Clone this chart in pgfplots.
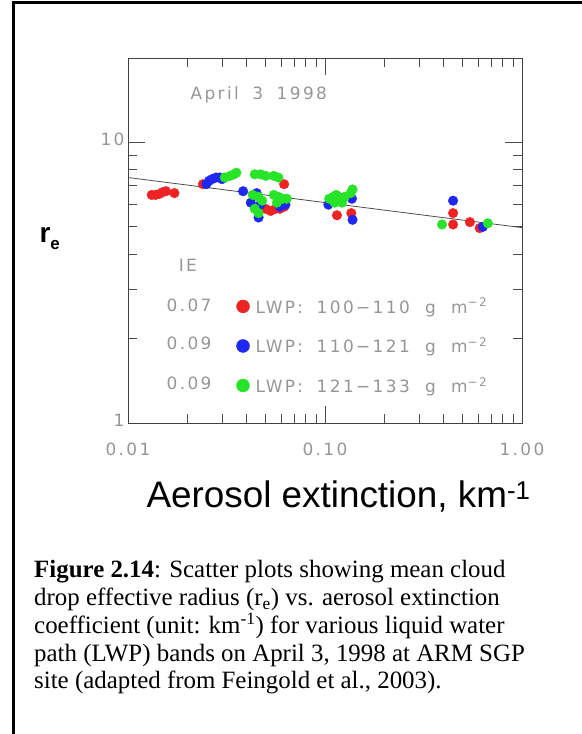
\documentclass[border=0pt]{standalone}
\usepackage{pgfplots}
\pgfplotsset{compat=1.18}
\usepackage{fontspec}
\setmainfont{Liberation Serif}
\newfontfamily\arial{Liberation Sans}
\newfontfamily\hershey[LetterSpace=14]{DejaVu Sans}
\definecolor{hgray}{RGB}{150,150,150}
\definecolor{pred}{RGB}{238,36,36}
\definecolor{pblue}{RGB}{30,40,240}
\definecolor{pgreen}{RGB}{40,228,40}
\newcommand\hfont{\hershey\fontsize{17}{17}\selectfont}

\begin{document}
\begin{tikzpicture}
\useasboundingbox (0,0) rectangle (582bp,734bp);
% frame of the page box
\draw[line width=3bp] (13.5bp,0) -- (13.5bp,731.5bp) -- (582bp,731.5bp);

\begin{axis}[
  at={(128bp,311bp)}, anchor=south west,
  width=394bp, height=365bp, scale only axis,
  xmode=log, ymode=log,
  xmin=0.01, xmax=1, ymin=1, ymax=20,
  xtick={0.01,0.1,1}, xticklabels={0.01,0.10,1.00},
  minor xtick={0.02,0.03,0.04,0.05,0.06,0.07,0.08,0.09,0.2,0.3,0.4,0.5,0.6,0.7,0.8,0.9},
  ytick={1,10}, yticklabels={1,10},
  minor ytick={2,3,4,5,6,7,8,9},
  major tick length=17bp, minor tick length=9bp,
  axis line style={draw=black!75, line width=0.9bp},
  every tick/.style={draw=black!70, line width=0.9bp},
  tick label style={font=\hfont, text=hgray},
  /pgf/number format/assume math mode=true,
  xticklabel style={yshift=-16bp},
  yticklabel style={yshift=3bp},
  legend style={draw=none, fill=none, at={(rel axis cs:0.275,0.348)}, anchor=north west,
    font=\hfont, text=hgray, row sep=19bp, inner sep=0pt},
  legend cell align=left,
  legend image post style={mark size=6.5bp},
]
% red: LWP 100-110
\addplot[only marks, mark=*, mark size=4.8bp, color=pred] coordinates {
(0.0132,6.5)(0.0138,6.5)(0.0144,6.55)(0.0150,6.65)(0.0156,6.7)(0.0172,6.6)
(0.0240,7.1)
(0.050,5.8)(0.053,5.7)(0.056,5.8)(0.059,5.8)(0.062,5.9)(0.062,7.1)
(0.115,5.5)(0.136,5.6)
(0.447,5.6)(0.447,5.1)(0.544,5.2)(0.61,4.95)
};
\addlegendentry{\hspace{4bp}LWP:\hspace{0.8em}100−110\hspace{0.9em}g\hspace{0.9em}m\textsuperscript{−2}}
% blue: LWP 110-121
\addplot[only marks, mark=*, mark size=4.8bp, color=pblue] coordinates {
(0.0250,7.1)(0.0258,7.3)(0.0267,7.4)(0.0280,7.5)(0.0292,7.5)(0.0300,7.4)
(0.0384,6.7)(0.045,6.6)(0.042,6.1)(0.047,6.0)(0.046,5.4)(0.063,6.0)(0.059,5.9)
(0.104,6.0)(0.117,6.4)(0.137,6.3)(0.138,5.3)
(0.447,6.2)(0.633,5.0)
};
\addlegendentry{\hspace{4bp}LWP:\hspace{0.8em}110−121\hspace{0.9em}g\hspace{0.9em}m\textsuperscript{−2}}
% green: LWP 121-133
\addplot[only marks, mark=*, mark size=4.8bp, color=pgreen] coordinates {
(0.031,7.5)(0.033,7.6)(0.0345,7.7)(0.0355,7.8)
(0.044,7.7)(0.047,7.7)(0.050,7.6)(0.055,7.6)(0.058,7.5)
(0.043,6.5)(0.046,6.4)(0.048,6.2)(0.044,5.8)(0.046,5.6)
(0.055,6.5)(0.058,6.4)(0.061,6.3)(0.064,6.3)(0.057,6.1)
(0.105,6.3)(0.110,6.4)(0.114,6.5)(0.118,6.3)(0.122,6.1)(0.112,6.1)(0.126,6.4)(0.135,6.6)(0.138,6.8)
(0.393,5.1)(0.671,5.15)
};
\addlegendentry{\hspace{4bp}LWP:\hspace{0.8em}121−133\hspace{0.9em}g\hspace{0.9em}m\textsuperscript{−2}}
% fit line
\addplot[black!70, line width=0.8bp, forget plot] coordinates {(0.01,7.5)(1,4.97)};

\node[font=\hfont, text=hgray] at (rel axis cs:0.332,0.899) {April\hspace{0.8em}3\hspace{0.8em}1998};
\node[font=\hfont, text=hgray] at (rel axis cs:0.152,0.433) {IE};
\node[font=\hfont, text=hgray] at (rel axis cs:0.155,0.323) {0.07};
\node[font=\hfont, text=hgray] at (rel axis cs:0.155,0.219) {0.09};
\node[font=\hfont, text=hgray] at (rel axis cs:0.155,0.110) {0.09};
\end{axis}

\node[font=\arial\fontsize{37}{37}\selectfont, anchor=base west] at (143bp,226bp)
  {Aerosol extinction, km\textsuperscript{-1}};
\node[font=\arial\bfseries\fontsize{28}{28}\selectfont, anchor=base west] at (36bp,491bp)
  {r\raisebox{-0.22em}{\fontsize{17}{17}\selectfont e}};

\begin{scope}[every node/.style={anchor=base west, inner sep=0pt, font=\fontsize{25}{27.7}\selectfont}]
\node at (34bp,156bp) {\textbf{Figure 2.14}: Scatter plots showing mean cloud};
\node at (34bp,128.3bp) {drop effective radius (r\textsubscript{e}) vs. aerosol extinction};
\node at (34bp,100.6bp) {coefficient (unit: km\textsuperscript{-1}) for various liquid water};
\node at (34bp,72.9bp) {path (LWP) bands on April 3, 1998 at ARM SGP};
\node at (34bp,45.2bp) {site (adapted from Feingold et al., 2003).};
\end{scope}
\end{tikzpicture}
\end{document}
